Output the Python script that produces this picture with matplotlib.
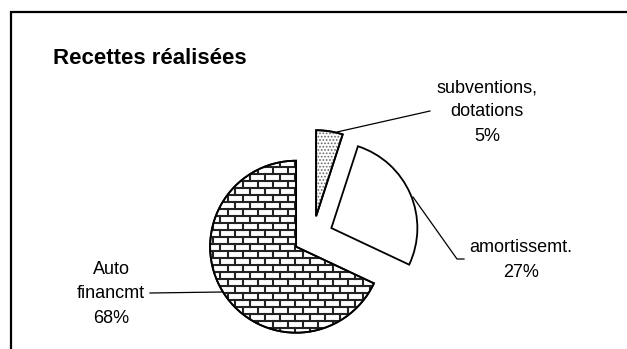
import matplotlib.pyplot as plt
import numpy as np
from matplotlib.patches import Rectangle, Wedge

plt.rcParams['font.family'] = ['Liberation Sans', 'DejaVu Sans']
plt.rcParams['hatch.linewidth'] = 0.8

# data
categories = ['subventions,\ndotations', 'amortissemt.', 'Auto\nfinancmt']
shares = [5, 27, 68]
title = 'Recettes réalisées'

W, H = 627, 349
fig = plt.figure(figsize=(W / 100, H / 100), dpi=100)
ax = fig.add_axes([0, 0, 1, 1])

wedges, _ = ax.pie(shares, startangle=90, counterclock=False,
                   explode=[20, 20, 20], radius=86, center=(313, H - 236),
                   wedgeprops=dict(ec='black', lw=1.3, fc='white'),
                   frame=True)
ax.set_xlim(0, W)
ax.set_ylim(0, H)
ax.set_aspect('equal')
ax.axis('off')

# chart frame (runs off the right and bottom edge)
ax.add_patch(Rectangle((11, -5), W + 10, H - 12 + 5, fill=False, lw=1.6, ec='black'))

ax.text(53, H - 58, title, fontsize=16, fontweight='bold', va='center', ha='left')

# dotted fill for subventions (grey dots under the black outline)
w0 = wedges[0]
dots = Wedge(w0.center, w0.r, w0.theta1, w0.theta2, fc='none', ec='#666666',
             lw=0, hatch='.....', zorder=w0.get_zorder() + 0.1)
ax.add_patch(dots)
outline = Wedge(w0.center, w0.r, w0.theta1, w0.theta2, fc='none', ec='black',
                lw=1.3, zorder=w0.get_zorder() + 0.2)
ax.add_patch(outline)

# brick fill for auto-financement, clipped to its wedge
big = wedges[2]
row_h, brick_w = 7, 15
ys = np.arange(0, H, row_h)
for i, y in enumerate(ys):
    ln, = ax.plot([100, 450], [y, y], color='#222222', lw=1.5)
    ln.set_clip_path(big)
    off = (brick_w / 2) * (i % 2)
    for x in np.arange(100 + off, 450, brick_w):
        v, = ax.plot([x, x], [y, y + row_h], color='#222222', lw=1.5)
        v.set_clip_path(big)
edge = Wedge(big.center, big.r, big.theta1, big.theta2, fc='none', ec='black', lw=1.3, zorder=5)
ax.add_patch(edge)

# labels with leader lines
lab = [f'{c}\n{p}%' for c, p in zip(categories, shares)]
ax.text(487, H - 112, lab[0], ha='center', va='center', fontsize=13, linespacing=1.55)
ax.plot([337, 430], [H - 132, H - 111], color='black', lw=0.9)

ax.text(521, H - 260, lab[1], ha='center', va='center', fontsize=13, linespacing=1.55)
ax.plot([413, 457, 464], [H - 197, H - 259, H - 259], color='black', lw=0.9)

ax.text(111, H - 294, lab[2], ha='center', va='center', fontsize=13, linespacing=1.55)
ax.plot([150, 222], [H - 293, H - 292], color='black', lw=0.9)

fig.savefig('out.png', dpi=100)
